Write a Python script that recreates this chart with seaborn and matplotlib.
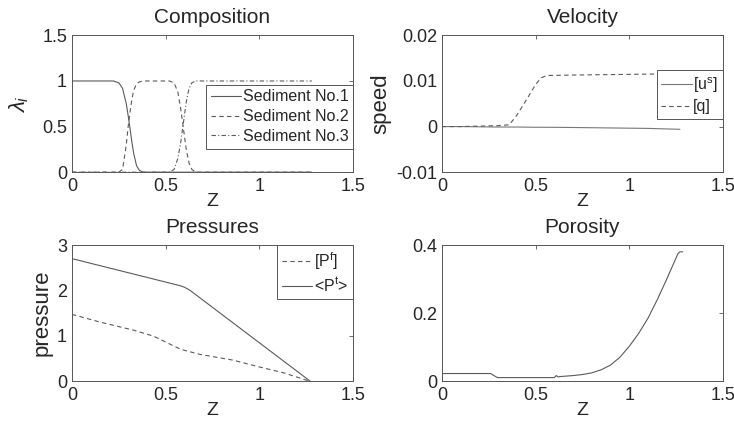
import numpy as np
import pandas as pd
import matplotlib
matplotlib.use("Agg")
import matplotlib.pyplot as plt
import seaborn as sns

# --- Data ---
# Composition (volume fractions of each sediment)
comp_z = [0.0, 0.22, 0.25, 0.27, 0.29, 0.30, 0.31, 0.32, 0.33, 0.345, 0.36, 0.38,
          0.52, 0.545, 0.565, 0.58, 0.59, 0.60, 0.61, 0.625, 0.64, 0.66, 1.28]
sed1 = [1.0, 1.0, 0.98, 0.92, 0.75, 0.62, 0.48, 0.33, 0.2, 0.07, 0.02, 0.0,
        0.0, 0.0, 0.0, 0.0, 0.0, 0.0, 0.0, 0.0, 0.0, 0.0, 0.0]
sed2 = [0.0, 0.0, 0.0, 0.03, 0.3, 0.5, 0.66, 0.8, 0.9, 0.97, 0.99, 1.0,
        1.0, 0.98, 0.88, 0.7, 0.55, 0.4, 0.25, 0.1, 0.03, 0.0, 0.0]
sed3 = [0.0, 0.0, 0.0, 0.0, 0.0, 0.0, 0.0, 0.0, 0.0, 0.0, 0.0, 0.0,
        0.0, 0.03, 0.15, 0.32, 0.47, 0.62, 0.77, 0.92, 0.98, 1.0, 1.0]

# Velocity
vel_z = [0.0, 0.1, 0.2, 0.3, 0.36, 0.4, 0.45, 0.5, 0.53, 0.56, 0.7, 0.9, 1.1, 1.27]
us = [0.0, 0.0, -0.00005, -0.0001, -0.0001, -0.0001, -0.00012, -0.00015, -0.00015,
      -0.00015, -0.0002, -0.0003, -0.0004, -0.0006]
qq = [0.0, 0.0, 0.0001, 0.0002, 0.0004, 0.0025, 0.0058, 0.0092, 0.0107, 0.0112,
      0.0113, 0.0114, 0.0115, 0.0116]

# Pressures
pf_z = [0.0, 0.15, 0.33, 0.435, 0.51, 0.58, 0.68, 0.86, 1.0, 1.13, 1.265]
pf = [1.47, 1.30, 1.12, 0.99, 0.84, 0.70, 0.59, 0.46, 0.31, 0.18, 0.0]
pt_z = [0.0, 0.58, 0.60, 0.63, 1.27]
pt = [2.70, 2.10, 2.07, 2.00, 0.0]

# Porosity
por_z = [0.0, 0.26, 0.29, 0.3, 0.45, 0.6, 0.61, 0.62, 0.63, 0.7, 0.75, 0.8, 0.85,
         0.9, 0.95, 1.0, 1.05, 1.1, 1.15, 1.2, 1.22, 1.24, 1.26, 1.27, 1.285]
por = [0.022, 0.022, 0.012, 0.01, 0.01, 0.01, 0.016, 0.012, 0.013, 0.016, 0.019,
       0.024, 0.033, 0.047, 0.07, 0.102, 0.14, 0.185, 0.24, 0.3, 0.325, 0.35,
       0.375, 0.38, 0.38]

sns.set_style("white")
plt.rcParams['font.family'] = ['Liberation Sans', 'DejaVu Sans']
plt.rcParams['mathtext.fontset'] = 'custom'
plt.rcParams['mathtext.rm'] = 'Liberation Sans'
plt.rcParams['mathtext.it'] = 'Liberation Sans:italic'

LINE = '#5a5a5a'
BOX = '#555555'
TICK_FS = 13
LAB_FS = 14
YLAB_FS = 16
TITLE_FS = 15
LEG_FS = 11.5

fig = plt.figure(figsize=(7.34, 4.21), dpi=100)
w, h = 0.383, 0.325
ax_comp = fig.add_axes([0.098, 0.591, w, h])
ax_vel = fig.add_axes([0.602, 0.591, w, h])
ax_pr = fig.add_axes([0.098, 0.095, w, 0.323])
ax_por = fig.add_axes([0.602, 0.095, w, 0.323])


def style_axes(ax, title, ylabel, ylim, yticks, yticklabels):
    ax.set_xlim(0, 1.5)
    ax.set_xticks([0, 0.5, 1, 1.5])
    ax.set_xticklabels(['0', '0.5', '1', '1.5'])
    ax.set_ylim(*ylim)
    ax.set_yticks(yticks)
    ax.set_yticklabels(yticklabels)
    ax.tick_params(direction='in', top=True, right=True, length=3, width=0.6,
                   color=BOX, labelsize=TICK_FS)
    ax.tick_params(axis='x', pad=4)
    ax.tick_params(axis='y', pad=3.5)
    for sp in ax.spines.values():
        sp.set_visible(True)
        sp.set_color(BOX)
        sp.set_linewidth(0.7)
    ax.set_title(title, fontsize=TITLE_FS, pad=9)
    ax.set_xlabel('Z', fontsize=LAB_FS, labelpad=-1)
    ax.set_ylabel(ylabel, fontsize=YLAB_FS, labelpad=3)


def legend_box(ax, **kw):
    leg = ax.legend(fontsize=LEG_FS, handlelength=1.9, handletextpad=0.1,
                    borderpad=0.3, labelspacing=0.3, fancybox=False,
                    framealpha=1, borderaxespad=0, **kw)
    leg.get_frame().set_edgecolor(BOX)
    leg.get_frame().set_linewidth(0.7)
    return leg


# --- Composition ---
sns.lineplot(x=comp_z, y=sed1, ax=ax_comp, color=LINE, lw=0.8, ls='-',
             sort=False, label='Sediment No.1')
sns.lineplot(x=comp_z, y=sed2, ax=ax_comp, color=LINE, lw=0.8, ls=(0, (4, 3)),
             sort=False, label='Sediment No.2')
sns.lineplot(x=comp_z, y=sed3, ax=ax_comp, color=LINE, lw=0.8, ls=(0, (4, 2, 1, 2)),
             sort=False, label='Sediment No.3')
style_axes(ax_comp, 'Composition', r'$\lambda_i$', (0, 1.5), [0, 0.5, 1, 1.5],
           ['0', '0.5', '1', '1.5'])
ax_comp.yaxis.set_label_coords(-0.145, 0.5)
legend_box(ax_comp, loc='upper right', bbox_to_anchor=(1.0, 0.64))

# --- Velocity ---
sns.lineplot(x=vel_z, y=us, ax=ax_vel, color='#777777', lw=0.8, ls='-',
             sort=False, label=r'[u$^\mathrm{s}$]')
sns.lineplot(x=vel_z, y=qq, ax=ax_vel, color=LINE, lw=0.8, ls=(0, (4, 3)),
             sort=False, label='[q]')
style_axes(ax_vel, 'Velocity', 'speed', (-0.01, 0.02), [-0.01, 0, 0.01, 0.02],
           ['-0.01', '0', '0.01', '0.02'])
legend_box(ax_vel, loc='upper right', bbox_to_anchor=(1.0, 0.745))

# --- Pressures ---
sns.lineplot(x=pf_z, y=pf, ax=ax_pr, color=LINE, lw=0.8, ls=(0, (4, 3)),
             sort=False, label=r'[P$^\mathrm{f}$]')
sns.lineplot(x=pt_z, y=pt, ax=ax_pr, color=LINE, lw=0.8, ls='-',
             sort=False, label=r'<P$^\mathrm{t}$>')
style_axes(ax_pr, 'Pressures', 'pressure', (0, 3), [0, 1, 2, 3],
           ['0', '1', '2', '3'])
legend_box(ax_pr, loc='upper right', bbox_to_anchor=(1.0, 1.0))

# --- Porosity ---
sns.lineplot(x=por_z, y=por, ax=ax_por, color=LINE, lw=0.8, ls='-', sort=False)
style_axes(ax_por, 'Porosity', '', (0, 0.4), [0, 0.2, 0.4], ['0', '0.2', '0.4'])

fig.savefig('out.png', dpi=100, facecolor='white')
